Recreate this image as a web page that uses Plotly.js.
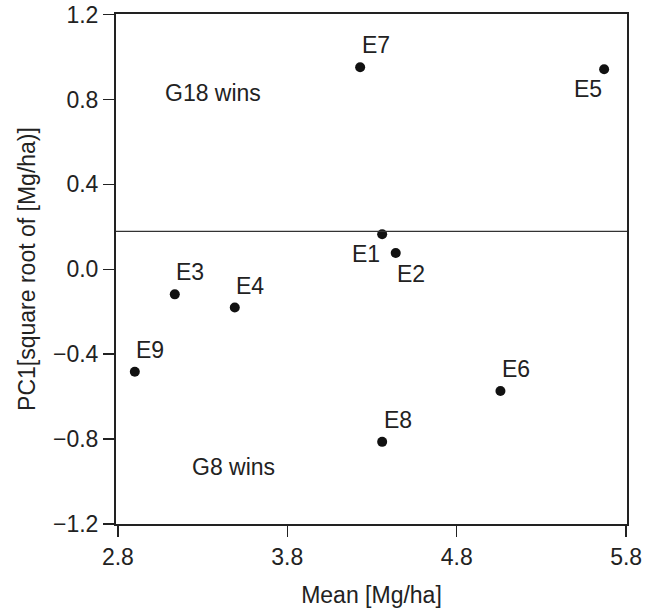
<!DOCTYPE html>
<html>
<head>
<meta charset="utf-8">
<script src="https://cdn.plot.ly/plotly-3.0.1.min.js"></script>
<style>html,body{margin:0;padding:0;background:#fff;}#chart{width:656px;height:609px;}</style>
</head>
<body>
<div id="chart"></div>
<script>
// Environments (labels), mean yield and PC1 score
const envLabels = ["E1", "E2", "E3", "E4", "E5", "E6", "E7", "E8", "E9"];
const meanYield = [4.36, 4.44, 3.136, 3.49, 5.67, 5.058, 4.23, 4.36, 2.90];
const pc1Score = [0.165, 0.077, -0.118, -0.18, 0.943, -0.573, 0.952, -0.813, -0.483];
// label placement relative to the point
const labelPos = ["bl", "br", "tr", "tr", "bl", "tr", "tr", "tr", "tr"];
// boundary line between the winners
const boundaryY = 0.179;
// region texts
const regionTexts = ["G18 wins", "G8 wins"];
const regionX = [3.36, 3.484];
const regionY = [0.83, -0.93];
// axis ticks
const xTicks = [2.8, 3.8, 4.8, 5.8];
const yTicks = [-1.2, -0.8, -0.4, 0.0, 0.4, 0.8, 1.2];

const FONT = "Liberation Sans, Arial, Helvetica, sans-serif";
const TXT = "#222";
const FS = 23;

const shifts = {
  tr: [15.5, 22],
  bl: [-16.5, -20],
  br: [15, -21]
};

const annotations = envLabels.map((lab, i) => ({
  x: meanYield[i], y: pc1Score[i], xref: "x", yref: "y",
  text: lab, showarrow: false,
  xanchor: "center", yanchor: "middle",
  xshift: shifts[labelPos[i]][0], yshift: shifts[labelPos[i]][1],
  font: {family: FONT, size: FS, color: TXT}
})).concat(regionTexts.map((t, i) => ({
  x: regionX[i], y: regionY[i], xref: "x", yref: "y",
  text: t, showarrow: false, xanchor: "center", yanchor: "middle",
  font: {family: FONT, size: FS, color: TXT}
})));

const trace = {
  type: "scatter", mode: "markers",
  x: meanYield, y: pc1Score,
  marker: {size: 10, color: "#111"},
  hoverinfo: "skip", showlegend: false
};

const layout = {
  width: 656, height: 609,
  margin: {l: 116, r: 29, t: 14, b: 85, pad: 0},
  paper_bgcolor: "#fff", plot_bgcolor: "#fff",
  font: {family: FONT, size: FS, color: TXT},
  showlegend: false,
  xaxis: {
    range: [2.789, 5.805], tickvals: xTicks, tickformat: ".1f",
    ticks: "outside", ticklen: 11, tickwidth: 1.5, tickcolor: "#222",
    showline: true, mirror: true, linecolor: "#222", linewidth: 2,
    showgrid: false, zeroline: false,
    tickfont: {family: FONT, size: FS, color: TXT},
    title: {text: "Mean [Mg/ha]", font: {family: FONT, size: FS, color: TXT}, standoff: 18}
  },
  yaxis: {
    range: [-1.2, 1.203], tickvals: yTicks, tickformat: ".1f",
    ticks: "outside", ticklen: 11, tickwidth: 1.5, tickcolor: "#222",
    showline: true, mirror: true, linecolor: "#222", linewidth: 2,
    showgrid: false, zeroline: false,
    tickfont: {family: FONT, size: FS, color: TXT},
    title: {text: "PC1[square root of [Mg/ha)]", font: {family: FONT, size: FS, color: TXT}, standoff: 11}
  },
  shapes: [{
    type: "line", xref: "paper", yref: "y", x0: 0, x1: 1, y0: boundaryY, y1: boundaryY,
    line: {color: "#333", width: 1.2}
  }],
  annotations: annotations
};

Plotly.newPlot("chart", [trace], layout, {staticPlot: true, displayModeBar: false});
</script>
</body>
</html>
